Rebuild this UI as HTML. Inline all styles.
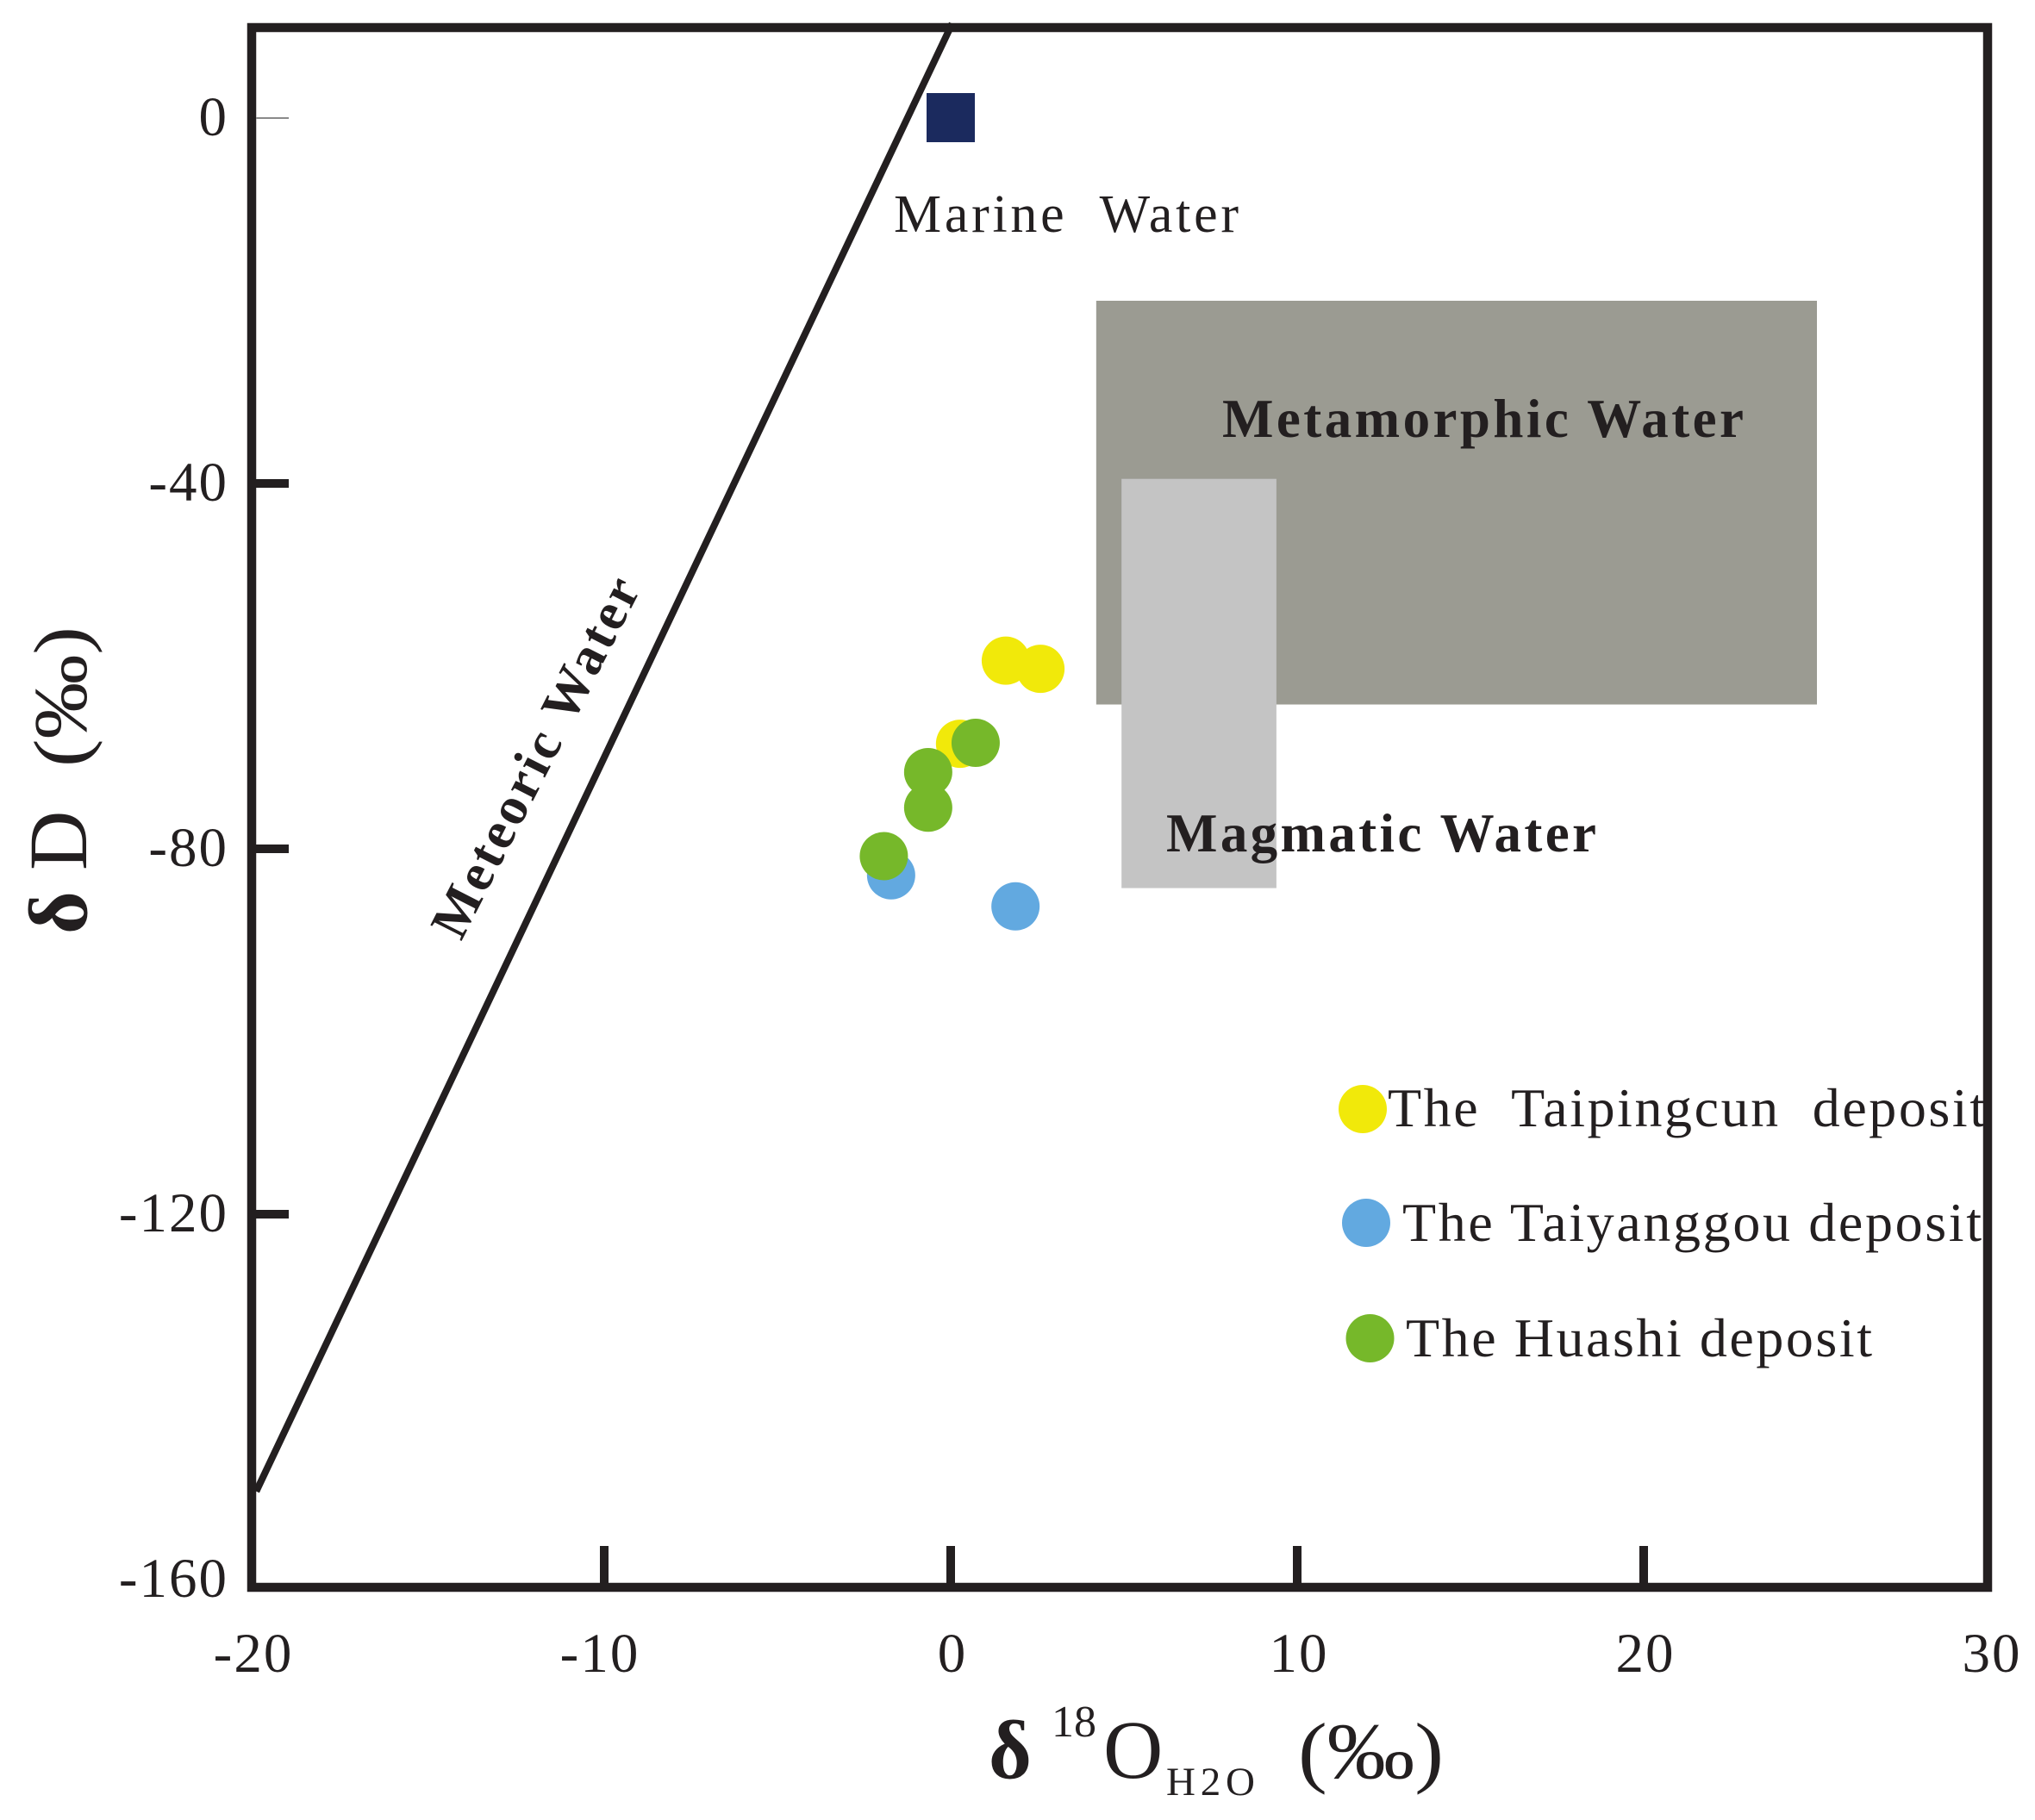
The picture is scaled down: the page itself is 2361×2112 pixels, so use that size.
<!DOCTYPE html>
<html lang="en">
<head>
<meta charset="utf-8">
<title>δD vs δ18O diagram</title>
<style>
html,body{margin:0;padding:0;background:#fff;}
svg{display:block;}
text{font-family:"Liberation Serif",serif;fill:#231f20;}
.b{font-weight:bold;}
</style>
</head>
<body>
<svg id="chart" xmlns="http://www.w3.org/2000/svg" width="2361" height="2112" viewBox="0 0 2361 2112">
  <rect x="0" y="0" width="2361" height="2112" fill="#ffffff"/>
  <g id="regions"></g>
  <g id="mwl"></g>
  <g id="points"></g>
  <rect x="292" y="32" width="2014" height="1810" fill="none" stroke="#231f20" stroke-width="10.5"/>
  <g id="ticks"></g>

  <text x="1037" y="269" font-size="62" textLength="400" lengthAdjust="spacing" xml:space="preserve">Marine  Water</text>
  <text class="b" x="1418" y="507" font-size="63" textLength="605" lengthAdjust="spacing">Metamorphic Water</text>
  <text class="b" x="1353" y="988" font-size="63" textLength="499" lengthAdjust="spacing">Magmatic Water</text>
  <text class="b" transform="translate(535 1093) rotate(-63)" font-size="62" textLength="460" lengthAdjust="spacing">Meteoric Water</text>

  <g>
    <circle cx="1581" cy="1287" r="28" fill="#f1e90a"/>
    <text x="1610" y="1307" font-size="64" textLength="693" lengthAdjust="spacing" xml:space="preserve">The  Taipingcun  deposit</text>
    <circle cx="1585" cy="1419" r="28" fill="#62a9e0"/>
    <text x="1627" y="1440" font-size="64" textLength="672" lengthAdjust="spacing">The Taiyanggou deposit</text>
    <circle cx="1589.500" cy="1553" r="28" fill="#76b82a"/>
    <text x="1631" y="1574" font-size="64" textLength="541" lengthAdjust="spacing">The Huashi deposit</text>
  </g>

  <g>
    <text class="b" transform="translate(100 1084) rotate(-90)" font-size="96">δ</text>
    <text transform="translate(100 1010) rotate(-90)" font-size="96">D</text>
    <text transform="translate(100 890) rotate(-90)" font-size="88" textLength="163" lengthAdjust="spacingAndGlyphs">(‰)</text>
  </g>

  <g>
    <text class="b" x="1147" y="2063" font-size="96">δ</text>
    <text x="1220" y="2015" font-size="52">18</text>
    <text x="1280" y="2063" font-size="96">O</text>
    <text x="1353" y="2083" font-size="47" textLength="103" lengthAdjust="spacing">H2O</text>
    <text x="1506" y="2063" font-size="92" textLength="169" lengthAdjust="spacingAndGlyphs">(‰)</text>
  </g>
</svg>
<script>
const xTickValues = [-10, 0, 10, 20];
const xTickLabels = ["-20", "-10", "0", "10", "20", "30"];
const xLabelValues = [-20, -10, 0, 10, 20, 30];
const yTickValues = [0, -40, -80, -120];
const yTickLabels = ["0", "-40", "-80", "-120", "-160"];
const yLabelValues = [0, -40, -80, -120, -160];
const mwlO = [-20, 0];
const mwlD = [-150, 10];
const marineO = [0];
const marineD = [0];
const metamorphicO = [4.2, 25];
const metamorphicD = [-20, -64.2];
const magmaticO = [4.93, 9.4];
const magmaticD = [-39.5, -84.3];
const taipingcunO = [1.59, 2.59, 0.27];
const taipingcunD = [-59.4, -60.3, -68.5];
const taiyanggouO = [-1.72, 1.87];
const taiyanggouD = [-82.9, -86.3];
const huashiO = [0.72, -0.65, -0.65, -1.93];
const huashiD = [-68.4, -71.6, -75.5, -80.8];

const NS = "http://www.w3.org/2000/svg";
function xScale(v) { return 1103 + 40.2 * v; }
function yScale(v) { return 137 - 10.6 * v; }
function make(tag, attrs, parent) {
  const el = document.createElementNS(NS, tag);
  for (const k in attrs) el.setAttribute(k, attrs[k]);
  parent.appendChild(el);
  return el;
}

const regions = document.getElementById("regions");
const metaRect = make("rect", {
  x: xScale(metamorphicO[0]), y: yScale(metamorphicD[0]),
  width: xScale(metamorphicO[1]) - xScale(metamorphicO[0]),
  height: yScale(metamorphicD[1]) - yScale(metamorphicD[0]),
  fill: "#9b9b92"
}, regions);


const magRect = make("rect", {
  x: xScale(magmaticO[0]), y: yScale(magmaticD[0]),
  width: xScale(magmaticO[1]) - xScale(magmaticO[0]),
  height: yScale(magmaticD[1]) - yScale(magmaticD[0]),
  fill: "#c4c4c4"
}, regions);



const mwlLine = make("line", {
  x1: xScale(mwlO[0]), y1: yScale(mwlD[0]),
  x2: xScale(mwlO[1]), y2: yScale(mwlD[1]),
  stroke: "#231f20", "stroke-width": 8, "stroke-linecap": "square"
}, document.getElementById("mwl"));



const points = document.getElementById("points");
marineO.forEach(function (o, i) {
  const sq = make("rect", {
    x: xScale(o) - 28, y: yScale(marineD[i]) - 29, width: 56, height: 57, fill: "#1b2a5e"
  }, points);
  
  
});
taipingcunO.forEach(function (o, i) {
  const c = make("circle", { cx: xScale(o), cy: yScale(taipingcunD[i]), r: 28, fill: "#f1e90a" }, points);
  
  
});
taiyanggouO.forEach(function (o, i) {
  const c = make("circle", { cx: xScale(o), cy: yScale(taiyanggouD[i]), r: 28, fill: "#62a9e0" }, points);
  
  
});
huashiO.forEach(function (o, i) {
  const c = make("circle", { cx: xScale(o), cy: yScale(huashiD[i]), r: 28, fill: "#76b82a" }, points);
  
  
});

const ticks = document.getElementById("ticks");
xTickValues.forEach(function (v) {
  const t = make("line", {
    x1: xScale(v), x2: xScale(v), y1: 1794, y2: 1840, stroke: "#231f20", "stroke-width": 10
  }, ticks);
  
  
});
yTickValues.forEach(function (v) {
  const t = make("line", {
    x1: 297, x2: 335, y1: yScale(v), y2: yScale(v),
    stroke: v === 0 ? "#8a8a8a" : "#231f20", "stroke-width": v === 0 ? 2 : 10
  }, ticks);
  
  
});
xLabelValues.forEach(function (v, i) {
  const t = make("text", {
    x: xScale(v) + (v < 0 ? -5 : 2), y: 1940, "font-size": 65, "text-anchor": "middle", "letter-spacing": 2
  }, ticks);
  t.textContent = xTickLabels[i];
  
  
});
yLabelValues.forEach(function (v, i) {
  const t = make("text", {
    x: 265, y: yScale(v) + 20, "font-size": 65, "text-anchor": "end", "letter-spacing": 2
  }, ticks);
  t.textContent = yTickLabels[i];
  
  
});
</script>
</body>
</html>
